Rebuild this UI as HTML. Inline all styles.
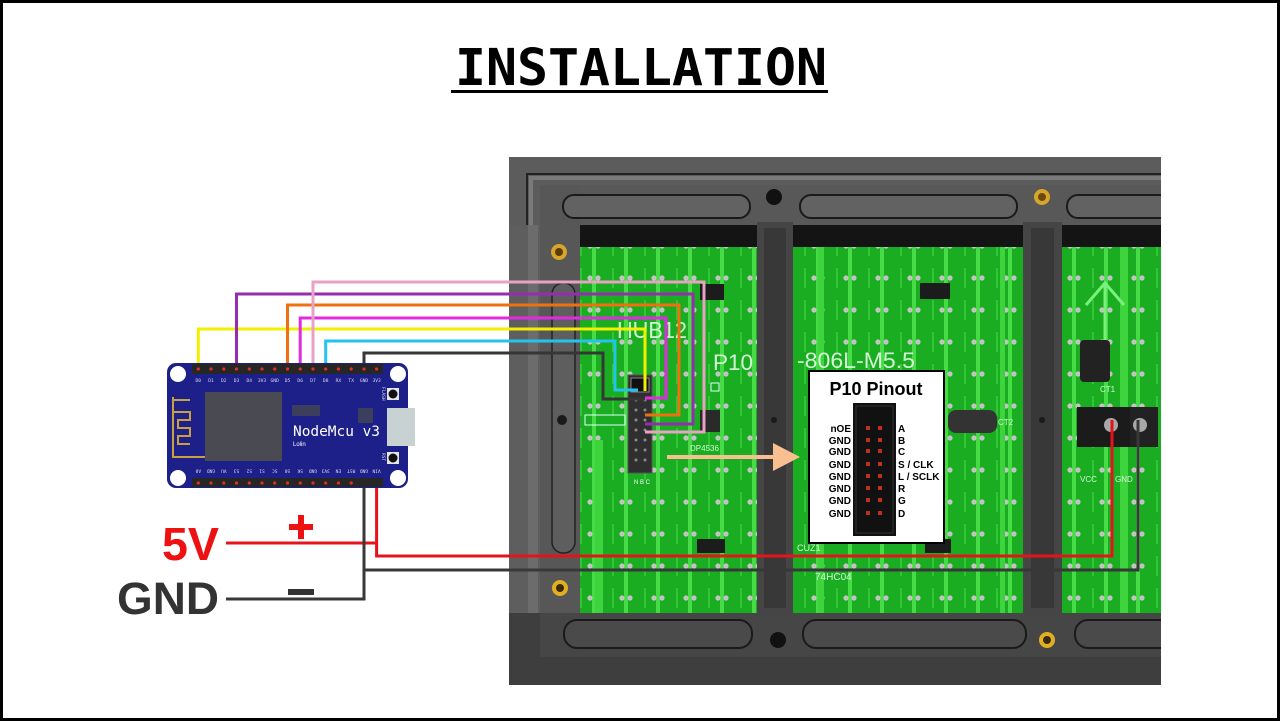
<!DOCTYPE html>
<html><head><meta charset="utf-8"><style>
html,body{margin:0;padding:0;background:#fff;}
svg{display:block;}
</style></head><body>
<svg width="1280" height="721" viewBox="0 0 1280 721" xmlns="http://www.w3.org/2000/svg">
<defs>
<pattern id="pcb" x="0" y="0" width="32" height="32" patternUnits="userSpaceOnUse">
<rect width="32" height="32" fill="#1aad22"/>
<rect x="16" y="0" width="4" height="32" fill="#45dc45"/>
<rect x="4" y="12" width="2" height="20" fill="#30c638"/>
<circle cx="14" cy="22" r="2.6" fill="#c4c4c4"/>
<circle cx="22" cy="22" r="2.6" fill="#c4c4c4"/>
</pattern>
<clipPath id="pclip"><rect x="509" y="157" width="652" height="528"/></clipPath>
</defs>
<rect x="0" y="0" width="1280" height="721" fill="#fff"/>
<rect x="1.5" y="1.5" width="1277" height="718" fill="none" stroke="#000" stroke-width="3"/>

<!-- Title -->
<text x="455" y="85" font-family="'DejaVu Sans Mono','Liberation Mono',monospace" font-weight="bold" font-size="51" textLength="372" lengthAdjust="spacingAndGlyphs" fill="#000">INSTALLATION</text>
<rect x="451" y="90" width="377" height="3" fill="#000"/>

<!-- PANEL -->
<g clip-path="url(#pclip)">
<rect x="509" y="157" width="652" height="528" fill="#525252"/>
<rect x="509" y="157" width="652" height="70" fill="#5c5c5c"/>
<path d="M527,685 V174 H1161" fill="none" stroke="#222" stroke-width="2"/>
<path d="M531,685 V178 H1161" fill="none" stroke="#7a7a7a" stroke-width="4"/>
<rect x="540" y="185" width="621" height="40" fill="#585858"/>
<rect x="509" y="225" width="71" height="390" fill="#5e5e5e"/>
<rect x="528" y="225" width="10" height="390" fill="#6c6c6c"/>
<rect x="540" y="185" width="40" height="470" fill="#575757"/>
<rect x="552" y="283" width="23" height="270" rx="11" fill="#5e5e5e" stroke="#222" stroke-width="1.5"/>
<rect x="509" y="613" width="652" height="72" fill="#3e3e3e"/>
<rect x="540" y="613" width="621" height="44" fill="#464646"/>
<!-- top slots -->
<rect x="563" y="195" width="187" height="23" rx="11" fill="#626262" stroke="#1a1a1a" stroke-width="2"/>
<rect x="800" y="195" width="217" height="23" rx="11" fill="#626262" stroke="#1a1a1a" stroke-width="2"/>
<rect x="1067" y="195" width="120" height="23" rx="11" fill="#626262" stroke="#1a1a1a" stroke-width="2"/>
<!-- bottom slots -->
<rect x="564" y="620" width="188" height="28" rx="13" fill="#4a4a4a" stroke="#1a1a1a" stroke-width="2"/>
<rect x="803" y="620" width="223" height="28" rx="13" fill="#4a4a4a" stroke="#1a1a1a" stroke-width="2"/>
<rect x="1075" y="620" width="120" height="28" rx="13" fill="#4a4a4a" stroke="#1a1a1a" stroke-width="2"/>
<!-- green windows -->
<rect x="580" y="225" width="177" height="388" fill="url(#pcb)"/>
<rect x="793" y="225" width="230" height="388" fill="url(#pcb)"/>
<rect x="1062" y="225" width="99" height="388" fill="url(#pcb)"/>
<rect x="580" y="225" width="177" height="22" fill="#141414"/>
<rect x="793" y="225" width="230" height="22" fill="#141414"/>
<rect x="1062" y="225" width="99" height="22" fill="#141414"/>
<!-- extra traces -->
<rect x="818" y="247" width="6" height="366" fill="#3ed43e"/>
<rect x="1000" y="247" width="5" height="366" fill="#3ed43e"/>
<rect x="595" y="440" width="8" height="173" fill="#3ed43e"/>
<rect x="1120" y="247" width="8" height="366" fill="#3ed43e"/>
<!-- dividers -->
<rect x="757" y="222" width="36" height="393" fill="#454545"/>
<rect x="764" y="228" width="22" height="380" fill="#383838"/>
<rect x="1023" y="222" width="39" height="393" fill="#454545"/>
<rect x="1031" y="228" width="23" height="380" fill="#383838"/>
<!-- holes -->
<circle cx="774" cy="197" r="8" fill="#111"/>
<circle cx="1042" cy="197" r="8" fill="#d6a52a"/><circle cx="1042" cy="197" r="4" fill="#6b4a10"/>
<circle cx="559" cy="252" r="8" fill="#d6a52a"/><circle cx="559" cy="252" r="4" fill="#5a3c08"/>
<circle cx="560" cy="588" r="8" fill="#e0b020"/><circle cx="560" cy="588" r="4" fill="#3a2a08"/>
<circle cx="562" cy="420" r="5" fill="#1a1a1a"/>
<circle cx="774" cy="420" r="3" fill="#1a1a1a"/>
<circle cx="1042" cy="420" r="3" fill="#1a1a1a"/>
<circle cx="778" cy="640" r="8" fill="#111"/>
<circle cx="1047" cy="640" r="8" fill="#e0b020"/><circle cx="1047" cy="640" r="4" fill="#3a2a08"/>

<!-- PCB text -->
<g font-family="'Liberation Sans',sans-serif" fill="#e8ffe8" opacity="0.9">
<text x="617" y="338" font-size="23" textLength="70" lengthAdjust="spacingAndGlyphs">HUB12</text>
<text x="713" y="370" font-size="22" textLength="40" lengthAdjust="spacingAndGlyphs">P10</text>
<text x="797" y="368" font-size="22" textLength="118" lengthAdjust="spacingAndGlyphs">-806L-M5.5</text>
<text x="690" y="451" font-size="8">DP4536</text>
<text x="797" y="551" font-size="9">CUZ1</text>
<text x="815" y="580" font-size="10">74HC04</text>
<text x="1100" y="392" font-size="8">CT1</text>
<text x="998" y="425" font-size="8">CT2</text>
<text x="1080" y="482" font-size="8">VCC</text>
<text x="1115" y="482" font-size="8">GND</text>
</g>
<!-- ICs -->
<rect x="700" y="284" width="24" height="16" fill="#1c1c1c"/>
<rect x="700" y="410" width="20" height="22" fill="#2a2a2a"/>
<rect x="920" y="283" width="30" height="16" fill="#1c1c1c"/>
<rect x="697" y="539" width="28" height="14" fill="#1c1c1c"/>
<rect x="925" y="539" width="26" height="14" fill="#1c1c1c"/>
<rect x="585" y="415" width="40" height="10" fill="none" stroke="#dff" stroke-width="1"/>
<rect x="711" y="383" width="8" height="8" fill="none" stroke="#dff" stroke-width="1"/>
<!-- green arrow -->
<path d="M1086,305 L1105,283 L1124,305 M1105,283 V352" fill="none" stroke="#7cf07c" stroke-width="3"/>
<!-- capacitors -->
<rect x="1080" y="340" width="30" height="42" rx="4" fill="#222"/>
<rect x="948" y="410" width="49" height="23" rx="8" fill="#333"/>
<!-- terminal blocks -->
<rect x="1077" y="407" width="53" height="40" fill="#1b1b1b"/>
<rect x="1130" y="407" width="28" height="40" fill="#222"/>
<circle cx="1111" cy="425" r="7" fill="#a8a8a8"/>
<circle cx="1140" cy="425" r="7" fill="#a8a8a8"/>
</g>
<!-- panel connector -->
<rect x="628" y="375" width="24" height="98" fill="#2f2f2f" stroke="#555" stroke-width="1"/>
<rect x="631" y="378" width="18" height="14" fill="#111" stroke="#888" stroke-width="1"/>
<g fill="#8a8a8a">
<circle cx="636" cy="400" r="1.5"/><circle cx="645" cy="400" r="1.5"/>
<circle cx="636" cy="410" r="1.5"/><circle cx="645" cy="410" r="1.5"/>
<circle cx="636" cy="420" r="1.5"/><circle cx="645" cy="420" r="1.5"/>
<circle cx="636" cy="430" r="1.5"/><circle cx="645" cy="430" r="1.5"/>
<circle cx="636" cy="440" r="1.5"/><circle cx="645" cy="440" r="1.5"/>
<circle cx="636" cy="450" r="1.5"/><circle cx="645" cy="450" r="1.5"/>
<circle cx="636" cy="460" r="1.5"/><circle cx="645" cy="460" r="1.5"/>
</g>
<text x="634" y="484" font-family="'Liberation Sans',sans-serif" font-size="6" fill="#fff">N B C</text>

<!-- peach arrow -->
<line x1="667" y1="457" x2="776" y2="457" stroke="#f8c090" stroke-width="4"/>
<polygon points="773,443 800,457 773,471" fill="#f8c090"/>

<!-- P10 pinout box -->
<rect x="809" y="371" width="135" height="172" fill="#fff" stroke="#000" stroke-width="2"/>
<text x="876" y="395" text-anchor="middle" font-family="'Liberation Sans',sans-serif" font-weight="bold" font-size="18" fill="#000">P10 Pinout</text>
<rect x="853" y="403" width="43" height="133" fill="#111"/>
<rect x="856" y="406" width="37" height="127" fill="none" stroke="#333" stroke-width="1"/>
<g fill="#c0301e">
<rect x="866" y="426" width="4" height="4"/><rect x="878" y="426" width="4" height="4"/>
<rect x="866" y="438" width="4" height="4"/><rect x="878" y="438" width="4" height="4"/>
<rect x="866" y="449" width="4" height="4"/><rect x="878" y="449" width="4" height="4"/>
<rect x="866" y="462" width="4" height="4"/><rect x="878" y="462" width="4" height="4"/>
<rect x="866" y="474" width="4" height="4"/><rect x="878" y="474" width="4" height="4"/>
<rect x="866" y="486" width="4" height="4"/><rect x="878" y="486" width="4" height="4"/>
<rect x="866" y="498" width="4" height="4"/><rect x="878" y="498" width="4" height="4"/>
<rect x="866" y="511" width="4" height="4"/><rect x="878" y="511" width="4" height="4"/>
</g>
<g font-family="'Liberation Sans',sans-serif" font-weight="bold" font-size="10" fill="#000">
<g text-anchor="end">
<text x="851" y="432">nOE</text>
<text x="851" y="444">GND</text>
<text x="851" y="455">GND</text>
<text x="851" y="468">GND</text>
<text x="851" y="480">GND</text>
<text x="851" y="492">GND</text>
<text x="851" y="504">GND</text>
<text x="851" y="517">GND</text>
</g>
<text x="898" y="432">A</text>
<text x="898" y="444">B</text>
<text x="898" y="455">C</text>
<text x="898" y="468">S / CLK</text>
<text x="898" y="480">L / SCLK</text>
<text x="898" y="492">R</text>
<text x="898" y="504">G</text>
<text x="898" y="517">D</text>
</g>

<!-- SIGNAL WIRES -->
<g fill="none" stroke-width="3" stroke-linejoin="miter">
<path d="M198.3,369 V329 H645 V391" stroke="#f2ef00"/>
<path d="M364,369 V353 H603 V399 H645" stroke="#363636"/>
<path d="M325.7,369 V341 H615 V390 H638" stroke="#22c4ef"/>
<path d="M300.2,369 V318 H666 V398 H645" stroke="#e02be0"/>
<path d="M287.5,369 V305 H679 V415 H645" stroke="#f0700f"/>
<path d="M236.5,369 V294 H693 V424 H645" stroke="#962db0"/>
<path d="M313,369 V282 H704 V432 H645" stroke="#e8a2c4"/>
</g>

<!-- POWER WIRES -->
<g fill="none" stroke-width="3">
<path d="M376.6,486 V556 H1112 V420" stroke="#e4141a"/>
<path d="M226,543 H376.6" stroke="#e4141a"/>
<path d="M364,486 V599 H226" stroke="#383838"/>
<path d="M364,570 H1138 V420" stroke="#383838"/>
</g>

<!-- NodeMCU -->
<rect x="167" y="363" width="241" height="125" rx="9" fill="#1d2088"/>
<circle cx="178" cy="374" r="8" fill="#fff"/>
<circle cx="398" cy="374" r="8" fill="#fff"/>
<circle cx="178" cy="478" r="8" fill="#fff"/>
<circle cx="398" cy="478" r="8" fill="#fff"/>
<rect x="192" y="364" width="191" height="10" fill="#262626"/>
<rect x="192" y="478" width="191" height="9" fill="#262626"/>
<g fill="#e03020">
<circle cx="198.3" cy="369" r="1.6"/><circle cx="211" cy="369" r="1.6"/><circle cx="223.8" cy="369" r="1.6"/><circle cx="236.5" cy="369" r="1.6"/><circle cx="249.3" cy="369" r="1.6"/><circle cx="262" cy="369" r="1.6"/><circle cx="274.7" cy="369" r="1.6"/><circle cx="287.5" cy="369" r="1.6"/><circle cx="300.2" cy="369" r="1.6"/><circle cx="313" cy="369" r="1.6"/><circle cx="325.7" cy="369" r="1.6"/><circle cx="338.4" cy="369" r="1.6"/><circle cx="351.2" cy="369" r="1.6"/><circle cx="364" cy="369" r="1.6"/><circle cx="376.6" cy="369" r="1.6"/>
<circle cx="198.3" cy="483" r="1.6"/><circle cx="211" cy="483" r="1.6"/><circle cx="223.8" cy="483" r="1.6"/><circle cx="236.5" cy="483" r="1.6"/><circle cx="249.3" cy="483" r="1.6"/><circle cx="262" cy="483" r="1.6"/><circle cx="274.7" cy="483" r="1.6"/><circle cx="287.5" cy="483" r="1.6"/><circle cx="300.2" cy="483" r="1.6"/><circle cx="313" cy="483" r="1.6"/><circle cx="325.7" cy="483" r="1.6"/><circle cx="338.4" cy="483" r="1.6"/><circle cx="351.2" cy="483" r="1.6"/>
</g>
<g font-family="'DejaVu Sans Mono',monospace" font-size="4.6" fill="#d8d8f0" text-anchor="middle">
<text x="198.3" y="382">D0</text><text x="211" y="382">D1</text><text x="223.8" y="382">D2</text><text x="236.5" y="382">D3</text><text x="249.3" y="382">D4</text><text x="262" y="382">3V3</text><text x="274.7" y="382">GND</text><text x="287.5" y="382">D5</text><text x="300.2" y="382">D6</text><text x="313" y="382">D7</text><text x="325.7" y="382">D8</text><text x="338.4" y="382">RX</text><text x="351.2" y="382">TX</text><text x="364" y="382">GND</text><text x="376.6" y="382">3V3</text>
<text transform="rotate(180 198.3 471)" x="198.3" y="472.5">A0</text>
<text transform="rotate(180 211 471)" x="211" y="472.5">GND</text>
<text transform="rotate(180 223.8 471)" x="223.8" y="472.5">VU</text>
<text transform="rotate(180 236.5 471)" x="236.5" y="472.5">S3</text>
<text transform="rotate(180 249.3 471)" x="249.3" y="472.5">S2</text>
<text transform="rotate(180 262 471)" x="262" y="472.5">S1</text>
<text transform="rotate(180 274.7 471)" x="274.7" y="472.5">SC</text>
<text transform="rotate(180 287.5 471)" x="287.5" y="472.5">S0</text>
<text transform="rotate(180 300.2 471)" x="300.2" y="472.5">SK</text>
<text transform="rotate(180 313 471)" x="313" y="472.5">GND</text>
<text transform="rotate(180 325.7 471)" x="325.7" y="472.5">3V3</text>
<text transform="rotate(180 338.4 471)" x="338.4" y="472.5">EN</text>
<text transform="rotate(180 351.2 471)" x="351.2" y="472.5">RST</text>
<text transform="rotate(180 364 471)" x="364" y="472.5">GND</text>
<text transform="rotate(180 376.6 471)" x="376.6" y="472.5">VIN</text>
</g>
<!-- antenna -->
<path d="M205,457 H173 V397 M173,400 H190 M173,412 H190 V420 H178 V428 H190 V436 H178 V444 H190" fill="none" stroke="#c9a040" stroke-width="2"/>
<!-- ESP module -->
<rect x="205" y="392" width="77" height="69" fill="#4a4a52"/>
<rect x="292" y="405" width="28" height="11" fill="#3c3f5c"/>
<rect x="358" y="408" width="15" height="15" fill="#3c3f5c"/>
<text x="293" y="436" font-family="'DejaVu Sans Mono',monospace" font-size="14" fill="#fff" textLength="87" lengthAdjust="spacingAndGlyphs">NodeMcu v3</text>
<text x="293" y="446" font-family="'Liberation Sans',sans-serif" font-size="6" fill="#fff">Lolin</text>
<!-- USB -->
<rect x="387" y="408" width="28" height="38" fill="#c8d2d2"/>
<!-- buttons -->
<rect x="387" y="388" width="12" height="12" fill="#e6e6e6"/>
<circle cx="393" cy="394" r="4.5" fill="#111"/>
<rect x="387" y="452" width="12" height="12" fill="#e6e6e6"/>
<circle cx="393" cy="458" r="4.5" fill="#111"/>
<text transform="rotate(90 382 387)" x="382" y="387" font-family="'DejaVu Sans Mono',monospace" font-size="4.5" fill="#d8d8f0">FLASH</text>
<text transform="rotate(90 382 453)" x="382" y="453" font-family="'DejaVu Sans Mono',monospace" font-size="4.5" fill="#d8d8f0">RST</text>

<!-- 5V / GND labels -->
<text x="162" y="560" font-family="'Liberation Sans',sans-serif" font-weight="bold" font-size="46" fill="#ee1111" textLength="57" lengthAdjust="spacingAndGlyphs">5V</text>
<text x="117" y="614" font-family="'Liberation Sans',sans-serif" font-weight="bold" font-size="45" fill="#333" textLength="102" lengthAdjust="spacingAndGlyphs">GND</text>
<rect x="289" y="524" width="24" height="6" fill="#ee1111"/>
<rect x="298" y="515" width="6" height="24" fill="#ee1111"/>
<rect x="288" y="589" width="26" height="6" fill="#333"/>
</svg>
</body></html>
